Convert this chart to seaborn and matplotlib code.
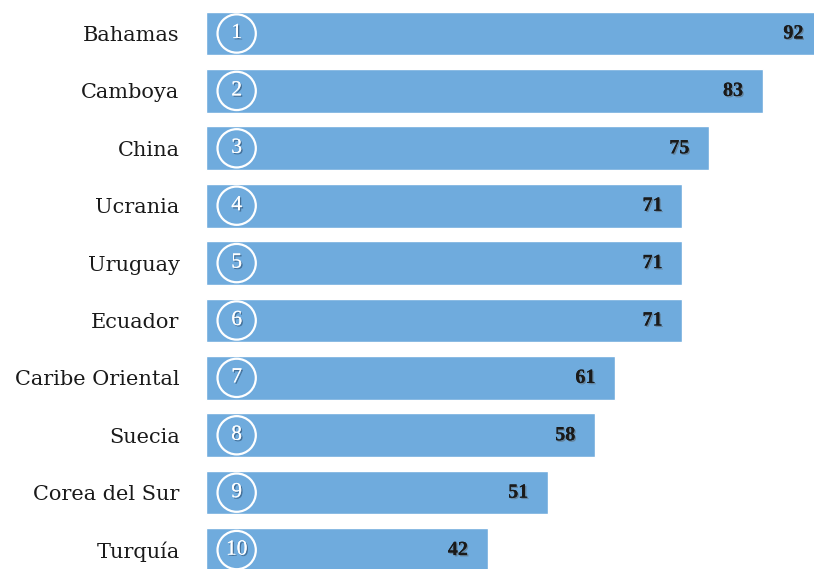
import matplotlib
matplotlib.use("Agg")
import matplotlib.pyplot as plt
import matplotlib.patheffects as pe
import seaborn as sns
import pandas as pd

countries = ["Bahamas", "Camboya", "China", "Ucrania", "Uruguay", "Ecuador",
             "Caribe Oriental", "Suecia", "Corea del Sur", "Turquía"]
values = [92, 83, 75, 71, 71, 71, 61, 58, 51, 42]
ranks = [str(i) for i in range(1, 11)]

df = pd.DataFrame({"country": countries, "value": values, "rank": ranks})

sns.set_theme(style="white")
plt.rcParams["font.family"] = ["DejaVu Serif"]

fig = plt.figure(figsize=(8.14, 5.69), dpi=100)
ax = fig.add_axes([206 / 814, 0, 1 - 206 / 814, 1])

sns.barplot(data=df, y="country", x="value", orient="h", color="#6fabdd",
            saturation=1, width=0.76, ax=ax)

ax.set_xlim(0, 90.6)
ax.set_ylim(9.33, -0.584)
for s in ax.spines.values():
    s.set_visible(False)
ax.set_xlabel("")
ax.set_ylabel("")
ax.set_xticks([])
ax.tick_params(axis="y", length=0, pad=19, labelsize=15, labelcolor="#1a1a1a")

circle_x = 4.57
ax.scatter([circle_x] * len(ranks), range(len(ranks)), s=760, facecolors="none",
           edgecolors="white", linewidths=1.6, zorder=3, clip_on=False)

shadow_w = [pe.withSimplePatchShadow(offset=(1, -1), shadow_rgbFace="#2a4a6a", alpha=0.6), pe.Normal()]
shadow_d = [pe.withSimplePatchShadow(offset=(1, -1), shadow_rgbFace="#555555", alpha=0.45), pe.Normal()]

for i, (r, v) in enumerate(zip(ranks, values)):
    ax.text(circle_x, i, r, ha="center", va="center", color="white",
            fontsize=15.5, family="Liberation Serif", zorder=4, path_effects=shadow_w)
    ax.annotate(str(v), xy=(v, i), xytext=(-30, 0), textcoords="offset pixels",
                ha="center", va="center", color="#1a1a1a", fontsize=14.5,
                family="Liberation Serif", fontweight="bold", zorder=4,
                annotation_clip=False, path_effects=shadow_d)

fig.savefig("out.png", dpi=100)
